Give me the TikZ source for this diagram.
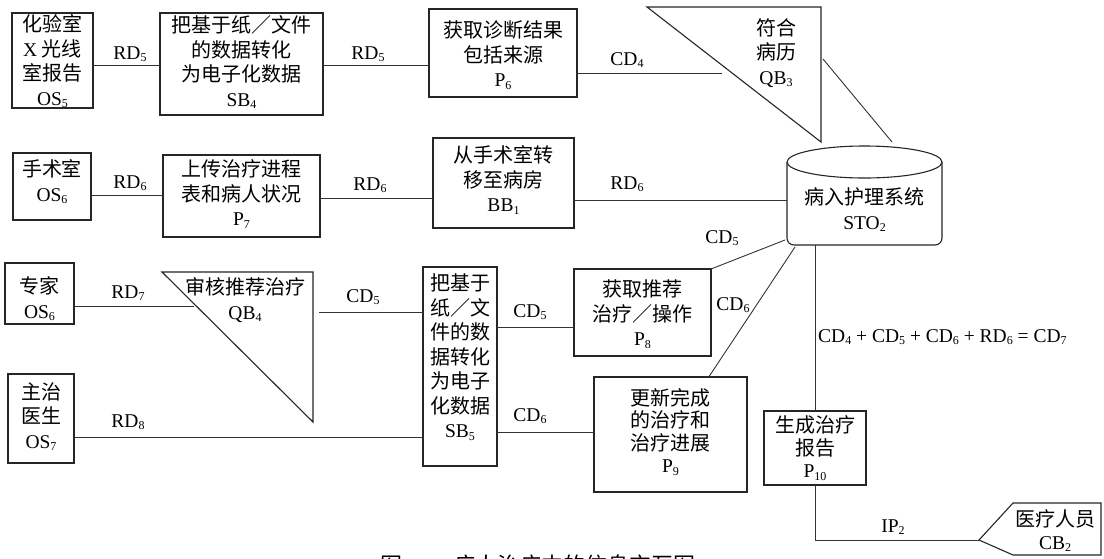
\documentclass[tikz,border=0pt]{standalone}
\usepackage{fontspec}
\setmainfont{Liberation Serif}
\newfontfamily\cjk{Noto Sans CJK SC}
\newfontfamily\latf{Liberation Serif}
\newcommand\lat{\latf\fontsize{19.5}{24}\selectfont}
\newcommand\sub[1]{\raisebox{-2.5pt}{\fontsize{12}{12}\selectfont #1}}
\usetikzlibrary{calc}
\begin{document}
\begin{tikzpicture}[x=1pt,y=-1pt,
  shp/.style={draw=black!85, line width=1.1pt},
  box/.style={shp, rectangle, inner sep=0pt, outer sep=0pt},
  txt/.style={align=center, inner sep=0pt, font=\cjk\fontsize{20}{24.5}\selectfont},
  txtb/.style={align=center, inner sep=0pt, font=\cjk\fontsize{20}{22.5}\selectfont},
  lbl/.style={inner sep=0pt, font=\lat},
  con/.style={draw=black!80, line width=0.9pt},
]
\fill[white] (0,0) rectangle (1104,558);
\useasboundingbox (0,0) rectangle (1104,558);

% ---------- boxes ----------
\node[box, minimum width=81pt, minimum height=95pt] (os5) at (52.5,60.5) {};
\node[txt] (os5t) at (52.5,61.5) {化验室\\{\lat X} 光线\\室报告\\{\lat OS\sub{5}}};

\node[box, minimum width=163pt, minimum height=102pt] (sb4) at (241.5,64) {};
\node[txt] (sb4t) at (241.5,62.5) {把基于纸／文件\\的数据转化\\为电子化数据\\{\lat SB\sub{4}}};

\node[box, minimum width=148pt, minimum height=88pt] (p6) at (503,53) {};
\node[txt] (p6t) at (503,55) {获取诊断结果\\包括来源\\{\lat P\sub{6}}};

\node[box, minimum width=78pt, minimum height=67pt] (os6a) at (52,186.5) {};
\node[txt] (os6at) at (52,182) {手术室\\{\lat OS\sub{6}}};

\node[box, minimum width=157pt, minimum height=82pt] (p7) at (241.5,196) {};
\node[txt] (p7t) at (241.5,194) {上传治疗进程\\表和病人状况\\{\lat P\sub{7}}};

\node[box, minimum width=141pt, minimum height=90pt] (bb1) at (503.5,183) {};
\node[txt] (bb1t) at (503.5,180) {从手术室转\\移至病房\\{\lat BB\sub{1}}};

\node[box, minimum width=69pt, minimum height=61pt] (os6b) at (39.5,293.5) {};
\node[txt] (os6bt) at (39.5,299) {专家\\{\lat OS\sub{6}}};

\node[box, minimum width=66pt, minimum height=89pt] (os7) at (41,418.5) {};
\node[txt] (os7t) at (41,416.5) {主治\\医生\\{\lat OS\sub{7}}};

\node[box, minimum width=74pt, minimum height=199pt] (sb5) at (460,366.5) {};
\node[txt] (sb5t) at (460,357) {把基于\\纸／文\\件的数\\据转化\\为电子\\化数据\\{\lat SB\sub{5}}};

\node[box, minimum width=137pt, minimum height=87pt] (p8) at (642.5,312.5) {};
\node[txt] (p8t) at (642.5,314) {获取推荐\\治疗／操作\\{\lat P\sub{8}}};

\node[box, minimum width=153pt, minimum height=115pt] (p9) at (670.5,434.5) {};
\node[txtb] (p9t) at (670.5,432) {更新完成\\的治疗和\\治疗进展\\{\lat P\sub{9}}};

\node[box, minimum width=102pt, minimum height=74pt] (p10) at (815,448) {};
\node[txtb] (p10t) at (815,448) {生成治疗\\报告\\{\lat P\sub{10}}};

% ---------- QB3 triangle ----------
\coordinate (qb3a) at (647,7);
\coordinate (qb3b) at (821,7);
\coordinate (qb3c) at (821,142);
\draw[shp] (qb3a) -- (qb3b) -- (qb3c) -- cycle;
\node[txt] (qb3t) at (776,53) {符合\\病历\\{\lat QB\sub{3}}};
\coordinate (qb3in) at (722,73);
\coordinate (qb3out) at (823,59);

% ---------- QB4 triangle ----------
\coordinate (qb4a) at (162,272);
\coordinate (qb4b) at (313,272);
\coordinate (qb4c) at (313,422);
\draw[shp] (qb4a) -- (qb4b) -- (qb4c) -- cycle;
\node[txt] (qb4t) at (245,300) {审核推荐治疗\\{\lat QB\sub{4}}};
\coordinate (qb4in) at (194,306);
\coordinate (qb4out) at (319,312);

% ---------- cylinder STO2 ----------
\node[inner sep=0pt, outer sep=0pt, minimum width=155pt, minimum height=100pt] (sto) at (864.5,195) {};
\draw[shp, rounded corners=7pt] (787,162) -- (787,245) -- (942,245) -- (942,162);
\draw[shp, fill=white] (864.5,162) ellipse [x radius=77.5pt, y radius=16pt];
\node[txt] (stot) at (864.5,210) {病入护理系统\\{\lat STO\sub{2}}};
\coordinate (stoq) at (892,142);
\coordinate (stoa) at (785,240);
\coordinate (stob) at (795,247);

% ---------- CB2 ----------
\coordinate (cb2w) at (979,540);
\draw[shp] (cb2w) -- (1013,503) -- (1101,503) -- (1101,555) -- (1013,555) -- cycle;
\node[txtb] (cb2t) at (1055,531) {医疗人员\\{\lat CB\sub{2}}};

% ---------- connectors ----------
\draw[con] (os5.east |- 0,65) -- (sb4.west |- 0,65);
\node[lbl] at (130,54) {RD\sub{5}};
\draw[con] (sb4.east |- 0,65) -- (p6.west |- 0,65);
\node[lbl] at (368,54) {RD\sub{5}};
\draw[con] (p6.east |- qb3in) -- (qb3in);
\node[lbl] at (627,60) {CD\sub{4}};
\draw[con] (qb3out) -- (stoq);

\draw[con] (os6a.east |- 0,195) -- (p7.west |- 0,195);
\node[lbl] at (130,183) {RD\sub{6}};
\draw[con] (p7.east |- 0,198) -- (bb1.west |- 0,198);
\node[lbl] at (370,185) {RD\sub{6}};
\draw[con] (bb1.east |- 0,200) -- (sto.west |- 0,200);
\node[lbl] at (627,184) {RD\sub{6}};

\draw[con] (os6b.east |- qb4in) -- (qb4in);
\node[lbl] at (128,293) {RD\sub{7}};
\draw[con] (qb4out) -- (sb5.west |- qb4out);
\node[lbl] at (363,297) {CD\sub{5}};
\draw[con] (os7.east |- 0,437) -- (sb5.west |- 0,437);
\node[lbl] at (128,422) {RD\sub{8}};

\draw[con] (sb5.east |- 0,327) -- (p8.west |- 0,327);
\node[lbl] at (530,312) {CD\sub{5}};
\draw[con] (sb5.east |- 0,432) -- (p9.west |- 0,432);
\node[lbl] at (530,416) {CD\sub{6}};

\draw[con] (p8.north east) -- (stoa);
\node[lbl] at (722,238) {CD\sub{5}};
\draw[con] ($(p9.north west)!0.75!(p9.north east)$) -- (stob);
\node[lbl] at (733,305) {CD\sub{6}};
\draw[con] (p10.north |- sto.south) -- (p10.north);
\node[lbl, anchor=west] at (818,337) {CD\sub{4} + CD\sub{5} + CD\sub{6} + RD\sub{6} = CD\sub{7}};
\draw[con] (p10.south) -- (p10.south |- cb2w) -- (cb2w);
\node[lbl] at (893,527) {IP\sub{2}};

% ---------- caption (clipped at the bottom edge, as in the reference) ----------
\node[anchor=base west, inner sep=0pt, font=\cjk\fontsize{22}{22}\selectfont] (capa) at (380,573) {图};
\node[anchor=base west, inner sep=0pt, font=\cjk\fontsize{22}{22}\selectfont] (capb) at (453,573) {病人治疗中的信息交互图};
\end{tikzpicture}
\end{document}
